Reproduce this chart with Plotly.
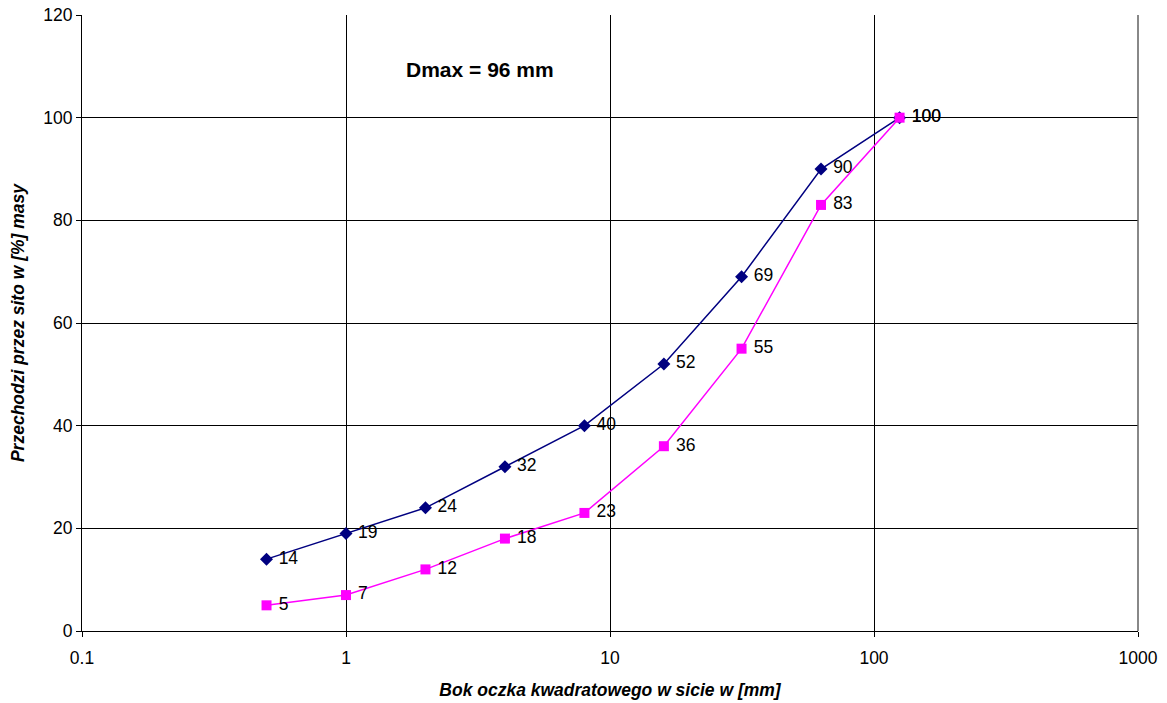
import plotly.graph_objects as go

sieve_mm = [0.5, 1, 2, 4, 8, 16, 31.5, 63, 125]
blue_vals = [14, 19, 24, 32, 40, 52, 69, 90, 100]
pink_vals = [5, 7, 12, 18, 23, 36, 55, 83, 100]
x_ticks = [0.1, 1, 10, 100, 1000]
x_tick_labels = ["0.1", "1", "10", "100", "1000"]
y_ticks = [0, 20, 40, 60, 80, 100, 120]

FONT = "Liberation Sans, Arial, sans-serif"

fig = go.Figure()
fig.add_trace(go.Scatter(
    x=sieve_mm, y=blue_vals, mode="lines+markers+text",
    line=dict(color="#000080", width=1.5),
    marker=dict(symbol="diamond", size=10, color="#000080"),
    text=[f" {v}" for v in blue_vals], textposition="middle right",
    textfont=dict(family=FONT, size=17.5, color="black"),
    cliponaxis=False, showlegend=False,
))
fig.add_trace(go.Scatter(
    x=sieve_mm, y=pink_vals, mode="lines+markers+text",
    line=dict(color="#FF00FF", width=1.5),
    marker=dict(symbol="square", size=10, color="#FF00FF"),
    text=[f" {v}" for v in pink_vals], textposition="middle right",
    textfont=dict(family=FONT, size=17.5, color="black"),
    cliponaxis=False, showlegend=False,
))

fig.add_annotation(
    x=0.377, y=0.911, xref="paper", yref="paper",
    xanchor="center", yanchor="middle",
    text="<b>Dmax = 96 mm</b>", showarrow=False,
    font=dict(family=FONT, size=21, color="black"),
)

fig.update_xaxes(
    type="log", range=[-1, 3], automargin=False,
    tickvals=x_ticks, ticktext=x_tick_labels,
    showgrid=True, gridcolor="black", gridwidth=1,
    ticks="outside", ticklen=5, tickcolor="black",
    ticklabelstandoff=6,
    showline=True, linecolor="black", mirror=False,
    tickfont=dict(family=FONT, size=17.5, color="black"),
    title=dict(text="<b><i>Bok oczka kwadratowego w sicie w [mm]</i></b>",
               font=dict(family=FONT, size=17.5, color="black"), standoff=16),
    zeroline=False,
)
fig.update_yaxes(
    range=[0, 120], tickvals=y_ticks, automargin=False,
    showgrid=True, gridcolor="black", gridwidth=1,
    ticks="outside", ticklen=5, tickcolor="black",
    showline=True, linecolor="black",
    tickfont=dict(family=FONT, size=17.5, color="black"),
    title=dict(text="<b><i>Przechodzi przez sito w [%] masy</i></b>",
               font=dict(family=FONT, size=17.5, color="black"), standoff=14),
    zeroline=False,
)

fig.add_shape(type="line", xref="paper", yref="paper", x0=1, x1=1, y0=0, y1=1,
              line=dict(color="#606060", width=1.5))

fig.update_layout(
    width=1167, height=703,
    margin=dict(l=82, r=29, t=15, b=72),
    paper_bgcolor="white", plot_bgcolor="white",
    font=dict(family=FONT, color="black"),
)

fig.write_html("out.html", config={"displayModeBar": False},
               post_script="document.body.style.margin='0';document.body.style.overflow='hidden';")
